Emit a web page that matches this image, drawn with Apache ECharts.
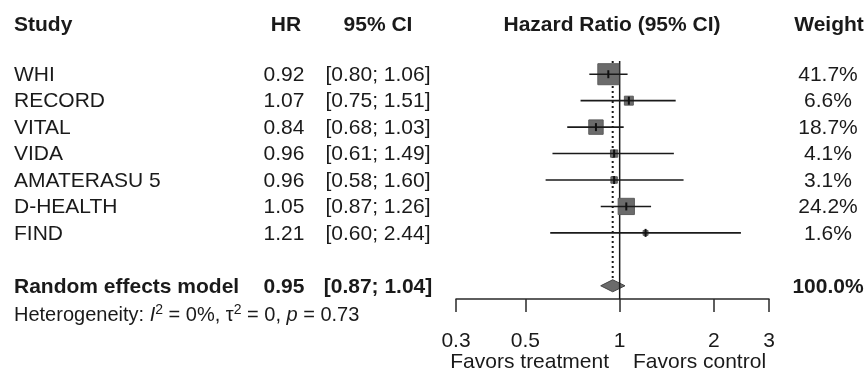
<!DOCTYPE html>
<html>
<head>
<meta charset="utf-8">
<script src="https://cdn.jsdelivr.net/npm/echarts@6/dist/echarts.min.js"></script>
<style>
  html, body { margin: 0; padding: 0; background: #fff; }
  #main { width: 867px; height: 377px; }
</style>
</head>
<body>
<div id="main"></div>
<script>
// ---------- data ----------
const studies  = ['WHI', 'RECORD', 'VITAL', 'VIDA', 'AMATERASU 5', 'D-HEALTH', 'FIND'];
const hr       = [0.92, 1.07, 0.84, 0.96, 0.96, 1.05, 1.21];
const lower    = [0.80, 0.75, 0.68, 0.61, 0.58, 0.87, 0.60];
const upper    = [1.06, 1.51, 1.03, 1.49, 1.60, 1.26, 2.44];
const weights  = [41.7, 6.6, 18.7, 4.1, 3.1, 24.2, 1.6];

const pooledLabel  = 'Random effects model';
const pooledHR     = 0.95;
const pooledLower  = 0.87;
const pooledUpper  = 1.04;
const pooledWeight = 100.0;

const tickValues = [0.3, 0.5, 1, 2, 3];
const tickLabels = ['0.3', '0.5', '1', '2', '3'];

const headers = ['Study', 'HR', '95% CI', 'Hazard Ratio (95% CI)', 'Weight'];
const heterogeneity = { I2: '0%', tau2: '0', p: '0.73' };
const favorsLeft  = 'Favors treatment';
const favorsRight = 'Favors control';

// ---------- layout ----------
const FONT = '"Liberation Sans", Arial, sans-serif';
const FS = 21;
const TXT = '#1a1a1a';
const pooledRow = studies.length + 1;   // blank row then pooled row
const colStudyX = 14, colHRX = 284, colCIX = 378, colWX = 828;

const chart = echarts.init(document.getElementById('main'), null, { renderer: 'canvas' });

const studyData = studies.map((s, i) => [i, hr[i], lower[i], upper[i], weights[i]]);

const tableRows = studies.map((s, i) => [i, s, hr[i].toFixed(2),
  '[' + lower[i].toFixed(2) + '; ' + upper[i].toFixed(2) + ']', weights[i].toFixed(1) + '%', 0]);
tableRows.push([pooledRow, pooledLabel, pooledHR.toFixed(2),
  '[' + pooledLower.toFixed(2) + '; ' + pooledUpper.toFixed(2) + ']', pooledWeight.toFixed(1) + '%', 1]);

function txt(x, y, text, align, bold) {
  return {
    type: 'text', x: x, y: y,
    style: {
      text: text, fill: TXT,
      font: (bold ? 'bold ' : '') + FS + 'px ' + FONT,
      fontFamily: FONT, fontSize: FS, fontWeight: bold ? 'bold' : 'normal',
      align: align, verticalAlign: 'middle',
      textAlign: align, textVerticalAlign: 'middle'
    }
  };
}

const option = {
  animation: false,
  backgroundColor: '#fff',
  grid: { left: 456, right: 98, top: 61, bottom: 78, containLabel: false },
  xAxis: {
    type: 'log', logBase: 10, min: 0.3, max: 3, position: 'bottom',
    axisLine: { show: true, onZero: false, lineStyle: { color: '#2a2a2a', width: 1.5 } },
    axisTick: { show: true, inside: false, length: 13, customValues: tickValues,
                lineStyle: { color: '#2a2a2a', width: 1.5 } },
    axisLabel: { show: true, customValues: tickValues, margin: 32,
                 fontFamily: FONT, fontSize: FS, color: TXT,
                 formatter: function (v) {
                   let k = 0, best = Infinity;
                   tickValues.forEach((t, j) => { const d = Math.abs(t - v); if (d < best) { best = d; k = j; } });
                   return tickLabels[k];
                 } },
    splitLine: { show: false },
    minorTick: { show: false }
  },
  yAxis: {
    type: 'value', inverse: true, min: -0.5, max: pooledRow + 0.5,
    show: false, splitLine: { show: false }
  },
  series: [
    // pooled diamond
    {
      type: 'custom', clip: false, z: 2,
      data: [[pooledRow, pooledHR, pooledLower, pooledUpper]],
      encode: { x: [1, 2, 3], y: 0 },
      renderItem: function (params, api) {
        const r = api.value(0);
        const pl = api.coord([api.value(2), r]);
        const pe = api.coord([api.value(1), r]);
        const pu = api.coord([api.value(3), r]);
        const h = 6;
        return {
          type: 'polygon',
          shape: { points: [[pl[0], pl[1]], [pe[0], pe[1] - h], [pu[0], pu[1]], [pe[0], pe[1] + h]] },
          style: { fill: '#6b6b6b', stroke: '#444', lineWidth: 1 }
        };
      }
    },
    // line of no effect
    {
      type: 'line', z: 3, symbol: 'none', silent: true,
      data: [[1, -0.5], [1, pooledRow + 0.5]],
      lineStyle: { color: '#1a1a1a', width: 1.5 }
    },
    // pooled estimate dotted line
    {
      type: 'line', z: 3, symbol: 'none', silent: true,
      data: [[pooledHR, -0.5], [pooledHR, pooledRow - 0.22]],
      lineStyle: { color: '#1a1a1a', width: 2, type: [2, 3] }
    },
    // study boxes and CIs
    {
      type: 'custom', clip: false, z: 5,
      data: studyData,
      encode: { x: [1, 2, 3], y: 0 },
      renderItem: function (params, api) {
        const i = api.value(0);
        const pe = api.coord([api.value(1), i]);
        const pl = api.coord([api.value(2), i]);
        const pu = api.coord([api.value(3), i]);
        const s = 1 + 3.1 * Math.sqrt(api.value(4));
        return {
          type: 'group',
          children: [
            { type: 'rect', shape: { x: pe[0] - s / 2, y: pe[1] - s / 2, width: s, height: s },
              style: { fill: '#6b6b6b', stroke: '#5c5c5c', lineWidth: 1 } },
            { type: 'line', shape: { x1: pl[0], y1: pl[1], x2: pu[0], y2: pu[1] },
              style: { stroke: '#1a1a1a', lineWidth: 1.6 } },
            { type: 'line', shape: { x1: pe[0], y1: pe[1] - 4, x2: pe[0], y2: pe[1] + 4 },
              style: { stroke: '#111', lineWidth: 2 } }
          ]
        };
      }
    },
    // table text columns
    {
      type: 'custom', clip: false, z: 6, silent: true,
      data: tableRows.map(r => [r[0], 1]),
      encode: { y: 0, x: 1 },
      renderItem: function (params, api) {
        const row = tableRows[params.dataIndex];
        const y = api.coord([1, row[0]])[1] + 1;
        const b = row[5] === 1;
        return {
          type: 'group',
          children: [
            txt(colStudyX, y, row[1], 'left', b),
            txt(colHRX, y, row[2], 'center', b),
            txt(colCIX, y, row[3], 'center', b),
            txt(colWX, y, row[4], 'center', b)
          ]
        };
      }
    }
  ],
  graphic: [
    txt(colStudyX, 25, headers[0], 'left', true),
    txt(colHRX + 2, 25, headers[1], 'center', true),
    txt(colCIX, 25, headers[2], 'center', true),
    txt(612, 25, headers[3], 'center', true),
    txt(colWX + 1, 25, headers[4], 'center', true),
    txt(609, 362, favorsLeft, 'right', false),
    txt(633, 362, favorsRight, 'left', false),
    {
      type: 'text', x: 14, y: 315,
      style: {
        text: '{n|Heterogeneity: }{it|I}{sup|2}{n| = ' + heterogeneity.I2 + ', τ}{sup|2}{n| = ' +
              heterogeneity.tau2 + ', }{it|p}{n| = ' + heterogeneity.p + '}',
        fill: TXT, align: 'left', verticalAlign: 'middle',
        textAlign: 'left', textVerticalAlign: 'middle',
        fontFamily: FONT, fontSize: 20,
        rich: {
          n:   { fontFamily: FONT, fontSize: 20, lineHeight: 23, fill: TXT, color: TXT },
          it:  { fontFamily: FONT, fontSize: 20, lineHeight: 23, fontStyle: 'italic', fill: TXT, color: TXT },
          sup: { fontFamily: FONT, fontSize: 14, lineHeight: 14, verticalAlign: 'top', fill: TXT, color: TXT }
        }
      }
    }
  ]
};

chart.setOption(option);
</script>
</body>
</html>
